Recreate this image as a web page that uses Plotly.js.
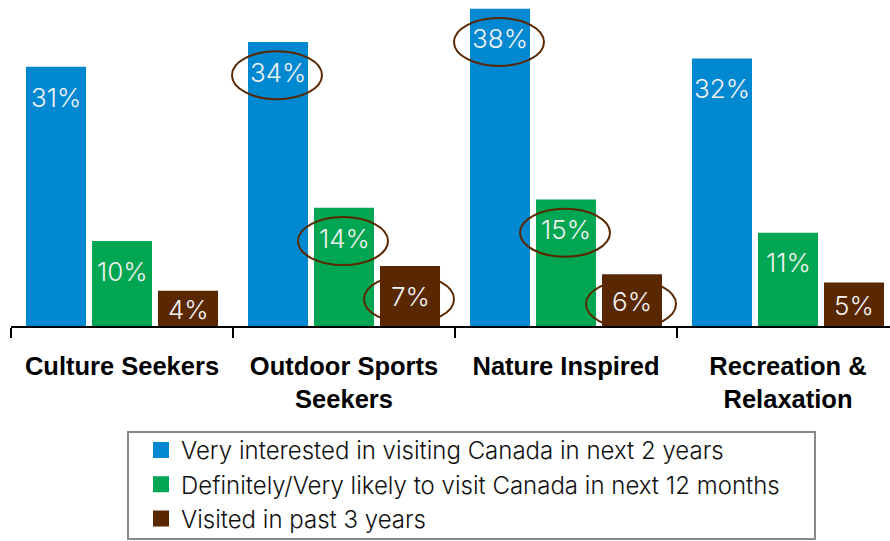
<!DOCTYPE html>
<html><head><meta charset="utf-8">
<script src="https://cdn.plot.ly/plotly-3.0.1.min.js"></script>
<style>html,body{margin:0;padding:0;background:#fff;}#chart{width:890px;height:541px;}</style>
</head><body><div id="chart"></div>
<script>
const categories = ["Culture Seekers", "Outdoor Sports<br>Seekers", "Nature Inspired", "Recreation &<br>Relaxation"];
const seriesNames = ["Very interested in visiting Canada in next 2 years",
                     "Definitely/Very likely to visit Canada in next 12 months",
                     "Visited in past 3 years"];
const veryInterested = [31, 34, 38, 32];
const likelyToVisit = [10, 14, 15, 11];
const visitedPast3 = [4, 7, 6, 5];
const highlighted = [[0, 1], [0, 2], [1, 1], [1, 2], [2, 1], [2, 2]]; // [series, category]

const seriesValues = [veryInterested, likelyToVisit, visitedPast3];
const colors = ["#0088D1", "#00A651", "#5A2800"];
const bargap = 0.108;
const slot = (1 - bargap) / 3;

const traces = seriesValues.map((vals, i) => ({
  type: "bar", name: seriesNames[i], x: categories, y: vals,
  marker: {color: colors[i], line: {color: colors[i], width: 4}}, hoverinfo: "skip"
}));

function labelY(v) { return Math.max(v - 3.4, v / 2); }

const labelFont = {family: "Inter, Roboto, 'Liberation Sans', sans-serif", size: 26, color: "#f2f2f2", weight: 300};
const annotations = [];
seriesValues.forEach((vals, i) => {
  vals.forEach((v, j) => {
    annotations.push({
      x: j + (i - 1) * slot, y: labelY(v), xref: "x", yref: "y",
      text: v + "%", showarrow: false, xanchor: "center", yanchor: "middle",
      font: labelFont
    });
  });
});

const shapes = highlighted.map(([i, j]) => ({
  type: "circle", xref: "x", yref: "y", xsizemode: "pixel", ysizemode: "pixel",
  xanchor: j + (i - 1) * slot, yanchor: labelY(seriesValues[i][j]),
  x0: -46, x1: 44, y0: -27, y1: 21,
  line: {color: "#5A2800", width: 2}, layer: "above"
}));

// legend frame
const plotW = 879, plotH = 326;
shapes.push({
  type: "rect", xref: "paper", yref: "paper",
  x0: (128 - 11) / plotW, x1: (815 - 11) / plotW,
  y0: -(539 - plotH) / plotH, y1: -(432 - plotH) / plotH,
  line: {color: "#888", width: 2}, fillcolor: "rgba(0,0,0,0)", layer: "above"
});

const layout = {
  width: 890, height: 541,
  margin: {l: 11, r: 0, t: 0, b: 215, autoexpand: false},
  paper_bgcolor: "#fff", plot_bgcolor: "#fff",
  barmode: "group", bargap: bargap, bargroupgap: 0.1515,
  showlegend: true,
  xaxis: {
    type: "category", range: [-0.5, -0.5 + plotW / 222],
    showline: true, linecolor: "#000", linewidth: 2,
    ticks: "outside", tickson: "boundaries", ticklen: 10, tickwidth: 2, tickcolor: "#000",
    ticklabelstandoff: 16, automargin: false,
    tickfont: {family: "'Liberation Sans', Arial, sans-serif", size: 25.5, color: "#000", weight: "bold"},
    showgrid: false, zeroline: false, fixedrange: true
  },
  yaxis: {range: [0, 39.3], visible: false, showgrid: false, zeroline: false, fixedrange: true},
  legend: {
    x: (128 - 11) / plotW, xanchor: "left", y: -(428 - plotH) / plotH, yanchor: "top",
    borderwidth: 0, bgcolor: "rgba(0,0,0,0)",
    indentation: 13, entrywidth: 722,
    font: {family: "Inter, Roboto, 'Liberation Sans', sans-serif", size: 24, color: "#111", weight: 300},
    traceorder: "normal", itemclick: false, itemdoubleclick: false
  },
  annotations: annotations,
  shapes: shapes
};

Plotly.newPlot("chart", traces, layout, {displayModeBar: false, staticPlot: true});
</script></body></html>
